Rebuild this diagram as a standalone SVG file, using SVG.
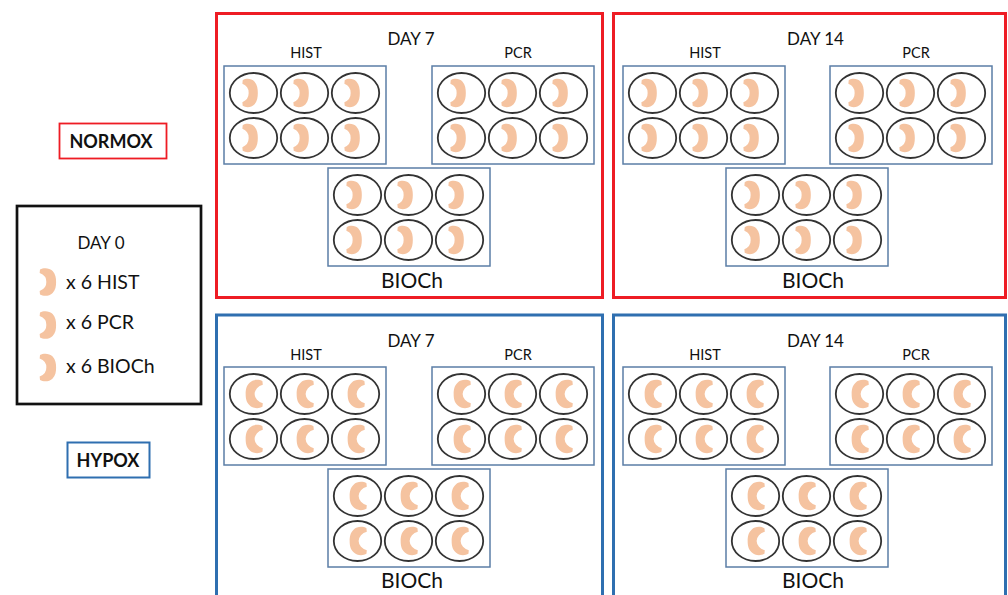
<svg xmlns="http://www.w3.org/2000/svg" xmlns:xlink="http://www.w3.org/1999/xlink" width="1008" height="595" viewBox="0 0 1008 595">
  <style>
    text { font-family: Lato, "Liberation Sans", sans-serif; fill: #111; }
    .day { font-size: 17px; text-anchor: middle; }
    .sub { font-size: 14.5px; text-anchor: middle; }
    .bio { font-size: 21px; text-anchor: middle; }
    .leg { font-size: 19.5px; }
    .lab { font-size: 18px; font-weight: bold; text-anchor: middle; }
    .panel-n { fill: none; stroke: #ee1c24; stroke-width: 3; }
    .panel-h { fill: none; stroke: #2f6fb0; stroke-width: 3; }
    .plate { fill: #fff; stroke: #5b7ea6; stroke-width: 1.5; }
    .well { fill: #fff; stroke: #333; stroke-width: 1.8; }
    .cr { fill: #f5c3a0; }
  </style>
  <defs>
    <!-- crescent tissue samples: normoxic ")" and hypoxic "(" -->
    <path id="cr-n" d="M -10,-12.5 C -7,-14.5 -2,-14.5 1,-11 C 3.5,-8 4,-4 4,0 C 4,4 3.5,8 1,11 C -2,14.5 -7,14.5 -10,12.5 L -10.3,9 A 9.5 9.5 0 0 0 -4.5,0 A 9.5 9.5 0 0 0 -10.3,-9 Z"/>
    <path id="cr-h" d="M 8,-12.5 C 5,-14.5 -0.5,-14.5 -3.5,-11 C -6.5,-8 -7,-4 -7,0 C -7,4 -6.5,8 -3.5,11 C -0.5,14.5 5,14.5 8,12.5 L 8.3,9 A 9.5 9.5 0 0 1 1,0 A 9.5 9.5 0 0 1 8.3,-9 Z"/>
    <g id="well-n"><ellipse rx="23.7" ry="20" class="well"/><use xlink:href="#cr-n" class="cr" transform="scale(1.08,1.02)"/></g>
    <g id="well-h"><ellipse rx="23.7" ry="20" class="well"/><use xlink:href="#cr-h" class="cr" transform="scale(1.12,1.02)"/></g>
    <!-- 6-well plates -->
    <g id="plate-n">
      <rect x="0" y="0" width="162" height="98" class="plate"/>
      <use xlink:href="#well-n" x="29.5" y="27"/>
      <use xlink:href="#well-n" x="80.5" y="27"/>
      <use xlink:href="#well-n" x="131.5" y="27"/>
      <use xlink:href="#well-n" x="29.5" y="72"/>
      <use xlink:href="#well-n" x="80.5" y="72"/>
      <use xlink:href="#well-n" x="131.5" y="72"/>
    </g>
    <g id="plate-h">
      <rect x="0" y="0" width="162" height="98" class="plate"/>
      <use xlink:href="#well-h" x="29.5" y="27"/>
      <use xlink:href="#well-h" x="80.5" y="27"/>
      <use xlink:href="#well-h" x="131.5" y="27"/>
      <use xlink:href="#well-h" x="29.5" y="72"/>
      <use xlink:href="#well-h" x="80.5" y="72"/>
      <use xlink:href="#well-h" x="131.5" y="72"/>
    </g>
  </defs>

  <rect width="1008" height="595" fill="#fff"/>

  <!-- condition labels -->
  <g id="label-normox">
    <rect x="59.5" y="123.5" width="107" height="35" fill="none" stroke="#ee1c24" stroke-width="1.8"/>
    <text x="111" y="147.5" class="lab">NORMOX</text>
  </g>
  <g id="label-hypox">
    <rect x="67.5" y="442.5" width="82" height="35" fill="none" stroke="#2f6fb0" stroke-width="2"/>
    <text x="108" y="466.5" class="lab">HYPOX</text>
  </g>

  <!-- day 0 baseline samples -->
  <g id="day0">
    <rect x="17" y="206" width="184" height="198" fill="none" stroke="#111" stroke-width="2.7"/>
    <text x="101" y="249" class="day">DAY 0</text>
    <use xlink:href="#cr-n" class="cr" transform="translate(51.5,282) scale(1.15,1)"/>
    <use xlink:href="#cr-n" class="cr" transform="translate(51.5,325) scale(1.15,1)"/>
    <use xlink:href="#cr-n" class="cr" transform="translate(51.5,367.5) scale(1.15,1)"/>
    <text x="66" y="289" class="leg">x 6 HIST</text>
    <text x="66" y="329" class="leg">x 6 PCR</text>
    <text x="66" y="373" class="leg">x 6 BIOCh</text>
  </g>

  <!-- normoxia, day 7 -->
  <g id="normox-day7">
    <rect x="216.5" y="13.5" width="386" height="284" class="panel-n"/>
    <text x="411" y="45" class="day">DAY 7</text>
    <text x="306" y="58" class="sub">HIST</text>
    <text x="518" y="58" class="sub">PCR</text>
    <use xlink:href="#plate-n" x="224" y="66"/>
    <use xlink:href="#plate-n" x="432" y="66"/>
    <use xlink:href="#plate-n" x="328" y="168"/>
    <text x="412" y="288" class="bio">BIOCh</text>
  </g>

  <!-- normoxia, day 14 -->
  <g id="normox-day14">
    <rect x="613.5" y="13.5" width="392" height="284" class="panel-n"/>
    <text x="815.5" y="45" class="day">DAY 14</text>
    <text x="705" y="58" class="sub">HIST</text>
    <text x="916" y="58" class="sub">PCR</text>
    <use xlink:href="#plate-n" x="623" y="66"/>
    <use xlink:href="#plate-n" x="830" y="66"/>
    <use xlink:href="#plate-n" x="726" y="168"/>
    <text x="813" y="288" class="bio">BIOCh</text>
  </g>

  <!-- hypoxia, day 7 -->
  <g id="hypox-day7">
    <rect x="216.5" y="315" width="386" height="290" class="panel-h"/>
    <text x="411" y="347" class="day">DAY 7</text>
    <text x="306" y="360" class="sub">HIST</text>
    <text x="518" y="360" class="sub">PCR</text>
    <use xlink:href="#plate-h" x="224" y="367"/>
    <use xlink:href="#plate-h" x="432" y="367"/>
    <use xlink:href="#plate-h" x="328" y="469"/>
    <text x="412" y="588" class="bio">BIOCh</text>
  </g>

  <!-- hypoxia, day 14 -->
  <g id="hypox-day14">
    <rect x="613.5" y="315" width="392" height="290" class="panel-h"/>
    <text x="815.5" y="347" class="day">DAY 14</text>
    <text x="705" y="360" class="sub">HIST</text>
    <text x="916" y="360" class="sub">PCR</text>
    <use xlink:href="#plate-h" x="623" y="367"/>
    <use xlink:href="#plate-h" x="830" y="367"/>
    <use xlink:href="#plate-h" x="726" y="469"/>
    <text x="813" y="588" class="bio">BIOCh</text>
  </g>

  <!-- no connectors in this layout -->
  <g id="connectors"/>
</svg>
